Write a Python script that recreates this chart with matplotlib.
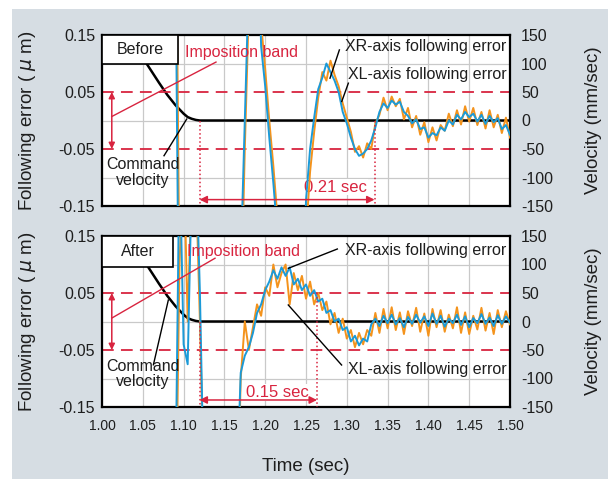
import numpy as np
import matplotlib.pyplot as plt
from matplotlib.patches import Rectangle
from matplotlib import font_manager

plt.rcParams['font.family'] = ['Liberation Sans', 'DejaVu Sans']
plt.rcParams['axes.unicode_minus'] = False

# sample times of the following error traces (every 5 ms)
t = np.round(1.0 + 0.005 * np.arange(101), 3)

# following error, in nm (off-scale values just mean "beyond the frame")
top_blue = [400] * 18 + [300, -500] + [-400] * 14 + \
    [-250, 0, 250, 400, 400, 130, 60, -30, -110, -200] + [-400] * 6 + \
    [-140, -50, 5, 55, 75, 100, 85, 70, 50, 15,
     -5, -30, -50, -62, -58, -50, -35, -12, 15, 30,
     22, 35, 28, 33, 15, 8, -5, 2, -15, -12,
     -30, -22, -26, -12, -18, 0, -7, 10, 2, 15,
     6, 12, -2, 10, -6, 8, -3, 4, -15, -8,
     -25]
top_orange = [500] * 19 + [-300] + [-400] * 14 + \
    [-350, -50, 200, 400, 400, 170, 90, 0, -80, -170] + [-300] + [-400] * 5 + \
    [-200, -90, -20, 40, 85, 70, 105, 80, 60, 30,
     5, -20, -55, -45, -65, -40, -50, -5, 10, 40,
     18, 42, 25, 38, 2, 22, -12, 8, -25, -3,
     -38, -12, -35, -8, -18, 12, -10, 18, -7, 25,
     -2, 22, -8, 15, -14, 18, -12, 10, -22, 5,
     -30]
bot_blue = [-400] * 18 + [-300, 300, -40, -75, 250, 300, 50, -300] + [-400] * 7 + [-300] + \
    [-90, -60, -45, -20, 15, 30, 55, 70, 90, 75,
     95, 80, 95, 65, 75, 55, 65, 45, 55, 35,
     40, 15, 20, 0, 5, -15, -10, -35, -25, -42,
     -30, -35, -5, 5] + \
    [-8, 10, -3, 12, -5, 6, -10, 8, -4, 12,
     -2, 9, -8, 14, -4, 10, -9, 5, -3, 12,
     -6, 9, -10, 6, -3, 13, -4, 7, -8, 11,
     -4, 9, -2]
bot_orange = [-400] * 18 + [-400, 100, 300, 0, 250, 250, 0, -300] + [-400] * 7 + [-400] + \
    [-100, 0, -50, -10, 30, 10, 60, 45, 100, 60,
     85, 100, 30, 85, 55, 80, 40, 70, 30, 50,
     20, 35, -5, 15, -20, 5, -30, -15, -45, -20,
     -40, -15, -25, 15] + \
    [-20, 22, -12, 25, -15, 16, -22, 18, -8, 24,
     -18, 14, -25, 22, -10, 20, -18, 12, -12, 25,
     -20, 16, -22, 10, -14, 24, -16, 15, -22, 20,
     -10, 18, -5]

# command velocity (mm/sec)
cmd_t = [1.00, 1.02, 1.04, 1.05, 1.06, 1.07, 1.08, 1.09, 1.10, 1.105, 1.11, 1.115, 1.12, 1.50]
cmd_v = [250, 190, 135, 110, 88, 66, 45, 27, 12, 6, 3, 1, 0, 0]

x_ticks = [1.00, 1.05, 1.10, 1.15, 1.20, 1.25, 1.30, 1.35, 1.40, 1.45, 1.50]
err_ticks = [0.15, 0.05, -0.05, -0.15]
vel_ticks = [150, 100, 50, 0, -50, -100, -150]

BLUE = '#1b9ad8'
ORANGE = '#f4931c'
RED = '#d8243f'
TXT = '#1e1e1e'

narrow = 'Liberation Sans Narrow'
have_narrow = any(f.name == narrow for f in font_manager.fontManager.ttflist)

fig = plt.figure(figsize=(6.08, 4.79), dpi=100, facecolor='white')
fig.add_artist(Rectangle((12 / 608, 0), 1 - 12 / 608, 1 - 9 / 479, transform=fig.transFigure,
                         facecolor='#d6dde3', edgecolor='none', zorder=-10))

ax_top = fig.add_axes([102 / 608, 1 - 206 / 479, 408 / 608, 171 / 479])
ax_bot = fig.add_axes([102 / 608, 1 - 407 / 479, 408 / 608, 171 / 479])


def setup(ax, show_x):
    ax.set_facecolor('white')
    ax.set_xlim(1.0, 1.5)
    ax.set_ylim(-0.15, 0.15)
    ax.set_xticks(x_ticks)
    ax.set_yticks(err_ticks)
    ax.set_yticks(np.round(np.arange(-0.15, 0.151, 0.05), 2), minor=True)
    ax.set_yticklabels(['%.2f' % v for v in err_ticks])
    ax.grid(True, which='major', axis='x', color='#c9c9c9', lw=0.9)
    ax.grid(True, which='minor', axis='y', color='#c9c9c9', lw=0.9)
    ax.set_axisbelow(True)
    ax.tick_params(which='both', length=0)
    ax.tick_params(axis='y', labelsize=11.5, pad=5, labelcolor=TXT)
    if show_x:
        ax.set_xticklabels(['%.2f' % v for v in x_ticks])
        ax.tick_params(axis='x', labelsize=11.5 if have_narrow else 10, pad=9, labelcolor=TXT)
        for lab in ax.get_xticklabels():
            if have_narrow:
                lab.set_family(narrow)
    else:
        ax.set_xticklabels([])
    for s in ax.spines.values():
        s.set_linewidth(1.6)
        s.set_color('black')
    ax.set_ylabel('Following error ( $\\mu$ m)', fontsize=13.5, color=TXT)
    ax.yaxis.set_label_coords(-0.157, 0.5)

    axr = ax.twinx()
    axr.set_ylim(-150, 150)
    axr.set_yticks(vel_ticks)
    axr.tick_params(length=0, labelsize=11.5, pad=8, labelcolor=TXT)
    for s in axr.spines.values():
        s.set_visible(False)
    axr.set_ylabel('Velocity (mm/sec)', fontsize=13.5, color=TXT, rotation=90)
    axr.yaxis.set_label_coords(1.184, 0.5)
    return axr


def draw(ax, axr, blue, orange, name, box_r, box_b, band_txt, band_line, cmd_txt, cmd_line,
         settle, sec_txt, sec_pos, arrow_y, xr_txt, xr_line, xl_txt, xl_line):
    # imposition band
    for y in (0.05, -0.05):
        ax.axhline(y, color=RED, lw=1.3, ls=(0, (6.5, 4)), zorder=2.2)
    # command velocity on the right-hand scale
    ax.plot(cmd_t, cmd_v, color='black', lw=1.8, transform=axr.transData, zorder=2)
    # following errors
    ax.plot(t, np.array(orange) / 1000, color=ORANGE, lw=1.4, zorder=3)
    ax.plot(t, np.array(blue) / 1000, color=BLUE, lw=1.4, zorder=3.1)

    ax.add_patch(Rectangle((1.0, box_b), box_r - 1.0, 0.15 - box_b, facecolor='white',
                           edgecolor='black', lw=1.2, zorder=5, clip_on=False))
    ax.text((1.0 + box_r) / 2, (0.15 + box_b) / 2, name, ha='center', va='center',
            fontsize=11.5, color=TXT, zorder=6)

    ax.text(band_txt[0], band_txt[1], 'Imposition band', color=RED, fontsize=11.5,
            ha='left', va='center', zorder=6)
    ax.plot(band_line[0], band_line[1], color=RED, lw=1, zorder=6)
    ax.annotate('', xy=(1.012, 0.05), xytext=(1.012, -0.05),
                arrowprops=dict(arrowstyle='<|-|>', color=RED, lw=1.1, mutation_scale=9,
                                shrinkA=0, shrinkB=0), zorder=6)

    ax.text(cmd_txt[0], cmd_txt[1], 'Command\nvelocity', ha='center', va='center',
            fontsize=11.5, color=TXT, linespacing=1.05, zorder=6)
    ax.plot(cmd_line[0], cmd_line[1], color='black', lw=1, zorder=6)

    # settling time
    ax.plot([1.1195, 1.1195], [0.0, -0.15], color=RED, lw=1.1, ls=':', zorder=4)
    ax.plot([settle[0], settle[0]], [settle[1], -0.15], color=RED, lw=1.1, ls=':', zorder=4)
    ax.annotate('', xy=(settle[0], arrow_y), xytext=(1.1195, arrow_y),
                arrowprops=dict(arrowstyle='<|-|>', color=RED, lw=1.1, mutation_scale=11,
                                shrinkA=0, shrinkB=0), zorder=4)
    ax.text(sec_pos[0], sec_pos[1], sec_txt, ha='center', va='center', color=RED,
            fontsize=12, zorder=2.6,
            bbox=dict(facecolor='white', edgecolor='none', pad=0.5))

    ax.text(1.4955, xr_txt, 'XR-axis following error', ha='right', va='center',
            fontsize=11.5, color=TXT, zorder=6)
    ax.plot(xr_line[0], xr_line[1], color='black', lw=1, zorder=6)
    ax.text(1.4955, xl_txt, 'XL-axis following error', ha='right', va='center',
            fontsize=11.5, color=TXT, zorder=6)
    ax.plot(xl_line[0], xl_line[1], color='black', lw=1, zorder=6)


axr_top = setup(ax_top, False)
axr_bot = setup(ax_bot, True)

draw(ax_top, axr_top, top_blue, top_orange, 'Before', 1.0935, 0.0987,
     (1.1017, 0.120), ([1.1397, 1.012], [0.1025, 0.007]),
     (1.0503, -0.0916), ([1.076, 1.1038], [-0.0618, 0.0025]),
     (1.334, 0.0), '0.21 sec', (1.2865, -0.117), -0.1388,
     0.1296, ([1.2909, 1.2794], [0.1238, 0.0742]),
     0.080, ([1.3019, 1.2938], [0.0655, 0.0333]))

draw(ax_bot, axr_bot, bot_blue, bot_orange, 'After', 1.0875, 0.096,
     (1.104, 0.122), ([1.1385, 1.012], [0.111, 0.006]),
     (1.0503, -0.092), ([1.063, 1.0813], [-0.0759, 0.0377]),
     (1.2635, 0.0497), '0.15 sec', (1.2145, -0.1246), -0.1377,
     0.1254, ([1.2884, 1.2283], [0.1272, 0.0933]),
     -0.085, ([1.2936, 1.2283], [-0.0763, 0.029]))

ax_bot.set_xlabel('Time (sec)', fontsize=13.5, color=TXT)
ax_bot.xaxis.set_label_coords(0.5, -0.298)

fig.savefig('out.png', dpi=100, facecolor=fig.get_facecolor())
